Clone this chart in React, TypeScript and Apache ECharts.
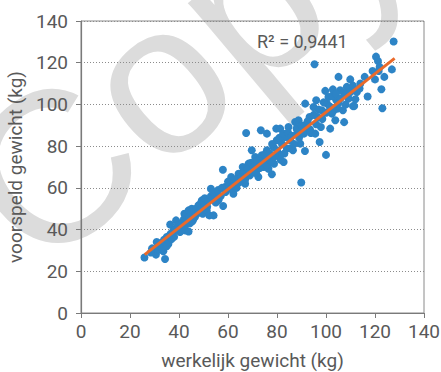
import React, { useEffect, useRef } from "react";
import * as echarts from "echarts";

// werkelijk gewicht (kg), voorspeld gewicht (kg)
const actualWeight: number[] = [
  25.9, 29.6, 30.6, 30.9, 32, 33, 33.6, 34.3, 33.9, 35, 35.7, 36.4, 36.6, 37.7, 38.8, 39.1, 40.4, 41.5, 42.5, 43.2,
  43.9, 42.2, 43.9, 45.2, 45.9, 47.3, 47.9, 49.3, 49.7, 50.7, 51.3, 52.4, 54.1, 53, 54.1, 55.2, 56.1, 57.9, 58, 58.8,
  60.2, 61.3, 62.2, 62.9, 64.3, 65, 66.3, 67, 67.4, 68.4, 68.8, 69.7, 70.4, 71.1, 71.8, 72.4, 73.4, 73.8, 74.5, 75.2,
  75.9, 75.9, 76.5, 77.2, 77.9, 78.6, 78.8, 79.7, 79.9, 80.6, 81.3, 82, 82.7, 83.3, 84, 84.7, 85.4, 86.5, 87.4, 88.1,
  88.8, 89.5, 89.9, 90.8, 91.4, 91.5, 92.2, 93.3, 93.8, 94.9, 95.3, 95.6, 96, 96.6, 97.4, 97.9, 98.3, 99.7, 100, 100.4,
  101, 101.7, 102.4, 102.8, 103.8, 104.2, 104.7, 105.1, 105.8, 106.9, 107.4, 108.5, 109.2, 109.9, 111, 111.5, 112.6, 113.7, 115.8, 117,
  120.4, 121.2, 121.9, 122.6, 123, 123.8, 126.9, 127.6,
  28.5, 29, 31.5, 32.5, 33, 34, 35, 35.5, 36, 37, 37.5, 38, 38.5, 39.5, 40, 41, 41, 42, 42.5, 43,
  44, 44.5, 45, 45.5, 46, 46.5, 47, 48, 48.5, 49, 50, 50.5, 51.5, 52, 53, 54, 55, 56, 57, 57.5,
  59, 60, 61, 62, 63, 63.5, 64.5, 65.5, 66, 67, 68, 69, 69.5, 70.5, 71.5, 72, 73, 74, 75, 76,
  77, 77.5, 78, 79, 80, 81, 81.5, 82.5, 83, 84.5, 85.5, 86, 87, 88, 89, 90, 91, 92.5, 93.5, 95,
  96, 97, 98.5, 99, 100, 101.5, 102.5, 103, 104, 105, 106, 107.5, 108, 110, 111, 112, 114, 119, 120, 121.5,
];
const predictedWeight: number[] = [
  26.6, 29.2, 28, 34, 30.3, 32.4, 29.6, 25.9, 35.1, 36.4, 33.2, 42.4, 38, 39.6, 44.4, 40.4, 38.8, 41.2, 39.6, 44.4,
  39.1, 47.6, 49.2, 50, 45.2, 47.6, 51.6, 54, 47.6, 52.4, 49.2, 46.8, 46.8, 59.6, 55.6, 57.2, 54, 68.7, 51.3, 60.4,
  61.2, 65.2, 57.2, 62.8, 66.8, 63.6, 67.6, 62, 86.3, 71.6, 66.8, 78, 68.4, 74.8, 70.8, 65.2, 87.6, 75.6, 70, 73.2,
  86, 78, 69.2, 74.8, 66.5, 79.6, 71.6, 88.4, 82.8, 76.4, 88.4, 81.2, 72.4, 84.4, 78.8, 89.2, 82.8, 78, 91.6, 86,
  92.4, 81.2, 62.6, 87.6, 77.7, 100.4, 90.8, 94, 86.3, 98.8, 119.3, 86, 102, 94, 82, 89.2, 97.2, 106.5, 75.8, 100.4,
  103.6, 88.4, 95.6, 107.2, 92.4, 102, 98, 113.2, 106.8, 97.2, 91.5, 108.4, 102.8, 112, 99.2, 99.2, 106, 107.6, 113.2, 103.8,
  122.9, 120.8, 118, 107.3, 98.2, 113.2, 116.8, 130.2,
  29, 31, 30.5, 33.5, 31, 34.5, 32, 35, 37, 35.5, 38.5, 36.5, 40, 42, 39.5, 43, 39.5, 45, 42, 47,
  46, 43, 48, 44, 49.5, 46, 50, 48.5, 52, 50, 53, 55, 51, 54, 56, 58, 53, 59, 56, 60,
  58, 63, 59.5, 61, 64, 60, 62.5, 65, 70, 64, 69, 66, 72, 70, 67, 73, 69.5, 72, 76, 71,
  76.5, 73, 81, 75, 78, 84, 73.5, 86, 76.5, 86.5, 79, 85, 81, 88.5, 84, 90, 86, 92, 88, 95,
  90.5, 97.5, 93, 101, 96, 99, 104, 97, 105, 100.5, 103, 105.5, 100, 106, 109, 102.5, 110, 116, 112, 116,
];
// trendline end points
const trendX: number[] = [26, 128];
const trendY: number[] = [28, 122.1];
const xTicks = { min: 0, max: 140, interval: 20 };
const yTicks = { min: 0, max: 140, interval: 20 };
const rSquaredLabel = "R² = 0,9441";

const FONT = "Roboto, 'Noto Sans', sans-serif";

export default function App() {
  const ref = useRef<HTMLDivElement>(null);
  useEffect(() => {
    if (!ref.current) return;
    const chart = echarts.init(ref.current, undefined, { renderer: "svg" });
    const points = actualWeight.map((x, i) => [x, predictedWeight[i]]);
    const trend = trendX.map((x, i) => [x, trendY[i]]);
    chart.setOption({
      animation: false,
      backgroundColor: "#ffffff",
      grid: {
        left: 81,
        top: 21,
        right: 17,
        bottom: 59,
        containLabel: false,
        outerBoundsMode: "none",
        show: true,
        borderColor: "#8a8a8a",
        borderWidth: 1,
      },
      graphic: [
        {
          type: "text",
          z: -10,
          silent: true,
          x: -8,
          y: 219,
          rotation: 0.7,
          style: {
            text: "Copy",
            font: "215px 'Liberation Sans', sans-serif",
            fill: "#dcdcdc",
            align: "left",
            verticalAlign: "middle",
            textAlign: "left",
            textVerticalAlign: "middle",
          },
        },
        {
          type: "text",
          left: 257,
          top: 32,
          z: 10,
          style: {
            text: rSquaredLabel,
            font: "18px " + FONT,
            fill: "#595959",
          },
        },
      ],
      xAxis: {
        type: "value",
        min: xTicks.min,
        max: xTicks.max,
        interval: xTicks.interval,
        name: "werkelijk gewicht (kg)",
        nameLocation: "middle",
        nameGap: 38,
        nameTextStyle: { fontSize: 19, color: "#595959", fontFamily: FONT },
        axisLine: { show: true, lineStyle: { color: "#7a7a7a", width: 1.2 } },
        axisTick: { show: true, length: 5, lineStyle: { color: "#7a7a7a" } },
        axisLabel: { fontSize: 19, color: "#595959", fontFamily: FONT, margin: 9 },
        splitLine: { show: false },
      },
      yAxis: {
        type: "value",
        min: yTicks.min,
        max: yTicks.max,
        interval: yTicks.interval,
        name: "voorspeld gewicht (kg)",
        nameLocation: "middle",
        nameGap: 51,
        nameTextStyle: { fontSize: 19, color: "#595959", fontFamily: FONT },
        axisLine: { show: true, lineStyle: { color: "#7a7a7a", width: 1.2 } },
        axisTick: { show: true, length: 5, lineStyle: { color: "#7a7a7a" } },
        axisLabel: { fontSize: 19, color: "#595959", fontFamily: FONT, margin: 13 },
        splitLine: { show: true, lineStyle: { color: "#8c8c8c", type: [1, 2], width: 1 } },
      },
      series: [
        {
          type: "scatter",
          data: points,
          symbolSize: 8,
          itemStyle: { color: "#2d84c6", opacity: 1 },
          z: 3,
        },
        {
          type: "line",
          data: trend,
          symbol: "none",
          lineStyle: { color: "#ea6a2a", width: 3 },
          z: 4,
        },
      ],
    });
    return () => chart.dispose();
  }, []);
  return <div ref={ref} style={{ width: 441, height: 372, position: "absolute", left: 0, top: 0 }} />;
}
